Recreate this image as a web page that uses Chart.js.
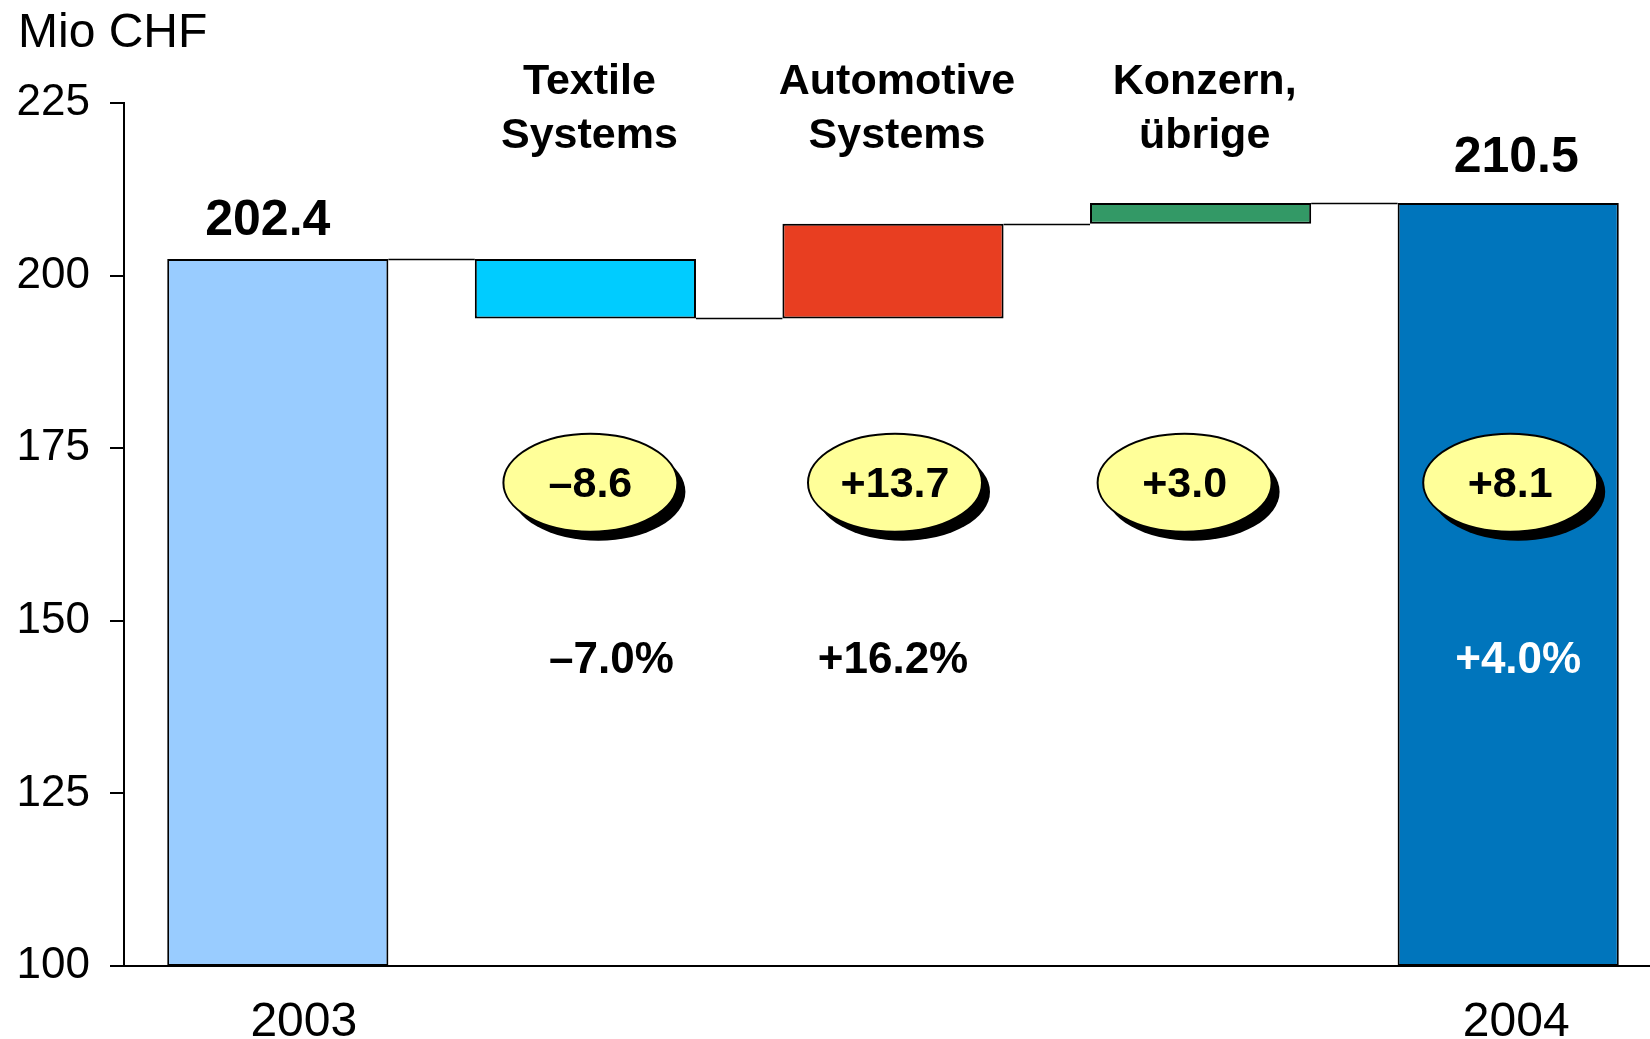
<!DOCTYPE html>
<html>
<head>
<meta charset="utf-8">
<title>Mio CHF – Brücke 2003 / 2004</title>
<script src="https://cdn.jsdelivr.net/npm/chart.js@4.4.1/dist/chart.umd.min.js"></script>
<style>
  html, body { margin: 0; padding: 0; background: #fff; overflow: hidden; }
  #wrap { width: 1662px; height: 1039px; }
</style>
</head>
<body>
<div id="wrap"><canvas id="bridge" width="1662" height="1039"></canvas></div>
<script>
// data
const categories = ['2003', 'Textile Systems', 'Automotive Systems', 'Konzern, übrige', '2004'];
const headerLines = [null, ['Textile', 'Systems'], ['Automotive', 'Systems'], ['Konzern,', 'übrige'], null];
const startValue = 202.4;
const changes = [-8.6, 13.7, 3.0];
const endValue = 210.5;
const pctChanges = [null, -7.0, 16.2, null, 4.0];
const yTicks = [100, 125, 150, 175, 200, 225];

const barColors = ['#99CCFF', '#00CCFF', '#E83E21', '#339966', '#0075BC'];
const FONT = '"Liberation Sans", Arial, sans-serif';

// build the floating bars of the waterfall
const axisMin = yTicks[0];
const floating = [[axisMin, startValue]];
const levels = [startValue];
let running = startValue;
changes.forEach(c => {
  const next = Math.round((running + c) * 10) / 10;
  floating.push([Math.min(running, next), Math.max(running, next)]);
  levels.push(next);
  running = next;
});
floating.push([axisMin, endValue]);

function signed(v, suffix) {
  return (v < 0 ? '\u2013' : '+') + Math.abs(v).toFixed(1) + (suffix || '');
}
const bubbleTexts = [null, ...changes.map(c => signed(c)), signed(endValue - startValue)];

const decor = {
  id: 'decor',
  afterDatasetsDraw(chart) {
    const ctx = chart.ctx;
    const y = chart.scales.y;
    const bars = chart.getDatasetMeta(0).data;
    ctx.save();

    // connector lines between bars
    ctx.strokeStyle = '#000';
    ctx.lineWidth = 1.5;
    for (let i = 0; i < bars.length - 1; i++) {
      const a = bars[i], b = bars[i + 1];
      const py = Math.round(y.getPixelForValue(levels[i])) + 0.5;
      ctx.beginPath();
      ctx.moveTo(a.x + a.width / 2, py);
      ctx.lineTo(b.x - b.width / 2, py);
      ctx.stroke();
    }

    // unit
    ctx.fillStyle = '#000';
    ctx.font = '48px ' + FONT;
    ctx.textAlign = 'left';
    ctx.textBaseline = 'alphabetic';
    ctx.fillText('Mio CHF', 18, 47);
    ctx.textAlign = 'center';

    // values on top of the totals
    ctx.font = 'bold 50px ' + FONT;
    ctx.fillText(startValue.toFixed(1), bars[0].x - 10, y.getPixelForValue(startValue) - 24);
    ctx.fillText(endValue.toFixed(1), bars[4].x + 8, y.getPixelForValue(endValue) - 31);

    // header labels
    ctx.font = 'bold 43px ' + FONT;
    headerLines.forEach((lines, i) => {
      if (!lines) return;
      lines.forEach((t, k) => ctx.fillText(t, bars[i].x + 4, 94 + k * 54));
    });

    // bubbles
    const bubbleNudge = [0, 5, 2, -16, 2];
    const by = y.getPixelForValue(170);
    bubbleTexts.forEach((t, i) => {
      if (!t) return;
      const cx = bars[i].x + bubbleNudge[i];
      ctx.beginPath();
      ctx.ellipse(cx + 8, by + 9, 87, 49, 0, 0, Math.PI * 2);
      ctx.fillStyle = '#000';
      ctx.fill();
      ctx.beginPath();
      ctx.ellipse(cx, by, 87, 49, 0, 0, Math.PI * 2);
      ctx.fillStyle = '#FFFF99';
      ctx.fill();
      ctx.lineWidth = 2;
      ctx.strokeStyle = '#000';
      ctx.stroke();
      ctx.fillStyle = '#000';
      ctx.font = 'bold 43px ' + FONT;
      ctx.textBaseline = 'middle';
      ctx.fillText(t, cx, by + 2);
      ctx.textBaseline = 'alphabetic';
    });

    // percentage changes
    const pctNudge = [0, 26, 0, 0, 10];
    ctx.font = 'bold 44px ' + FONT;
    pctChanges.forEach((p, i) => {
      if (p === null) return;
      ctx.fillStyle = i === 4 ? '#fff' : '#000';
      ctx.fillText(signed(p, '%'), bars[i].x + pctNudge[i], 673);
    });

    // year labels under the axis
    ctx.fillStyle = '#000';
    ctx.font = '48px ' + FONT;
    ctx.fillText(categories[0], bars[0].x + 26, 1036);
    ctx.fillText(categories[4], bars[4].x + 8, 1036);

    ctx.restore();
  }
};

new Chart(document.getElementById('bridge').getContext('2d'), {
  type: 'bar',
  data: {
    labels: categories,
    datasets: [{
      data: floating,
      backgroundColor: barColors,
      borderColor: '#000',
      borderWidth: 2,
      borderSkipped: false,
      categoryPercentage: 1,
      barPercentage: 0.719
    }]
  },
  options: {
    responsive: false,
    animation: false,
    layout: { padding: { top: 103, bottom: 73, left: 0, right: 0 } },
    plugins: { legend: { display: false }, tooltip: { enabled: false } },
    scales: {
      x: {
        grid: { display: false, drawTicks: false },
        border: { color: '#000', width: 2 },
        ticks: { display: false }
      },
      y: {
        min: axisMin,
        max: yTicks[yTicks.length - 1],
        afterFit(scale) { scale.width = 124; },
        afterBuildTicks(scale) { scale.ticks = yTicks.map(v => ({ value: v })); },
        grid: { drawOnChartArea: false, drawTicks: true, tickLength: 14, color: '#000', lineWidth: 2 },
        border: { color: '#000', width: 2 },
        ticks: {
          color: '#000',
          padding: 20,
          font: { family: FONT, size: 44 }
        }
      }
    }
  },
  plugins: [decor]
});
</script>
</body>
</html>
